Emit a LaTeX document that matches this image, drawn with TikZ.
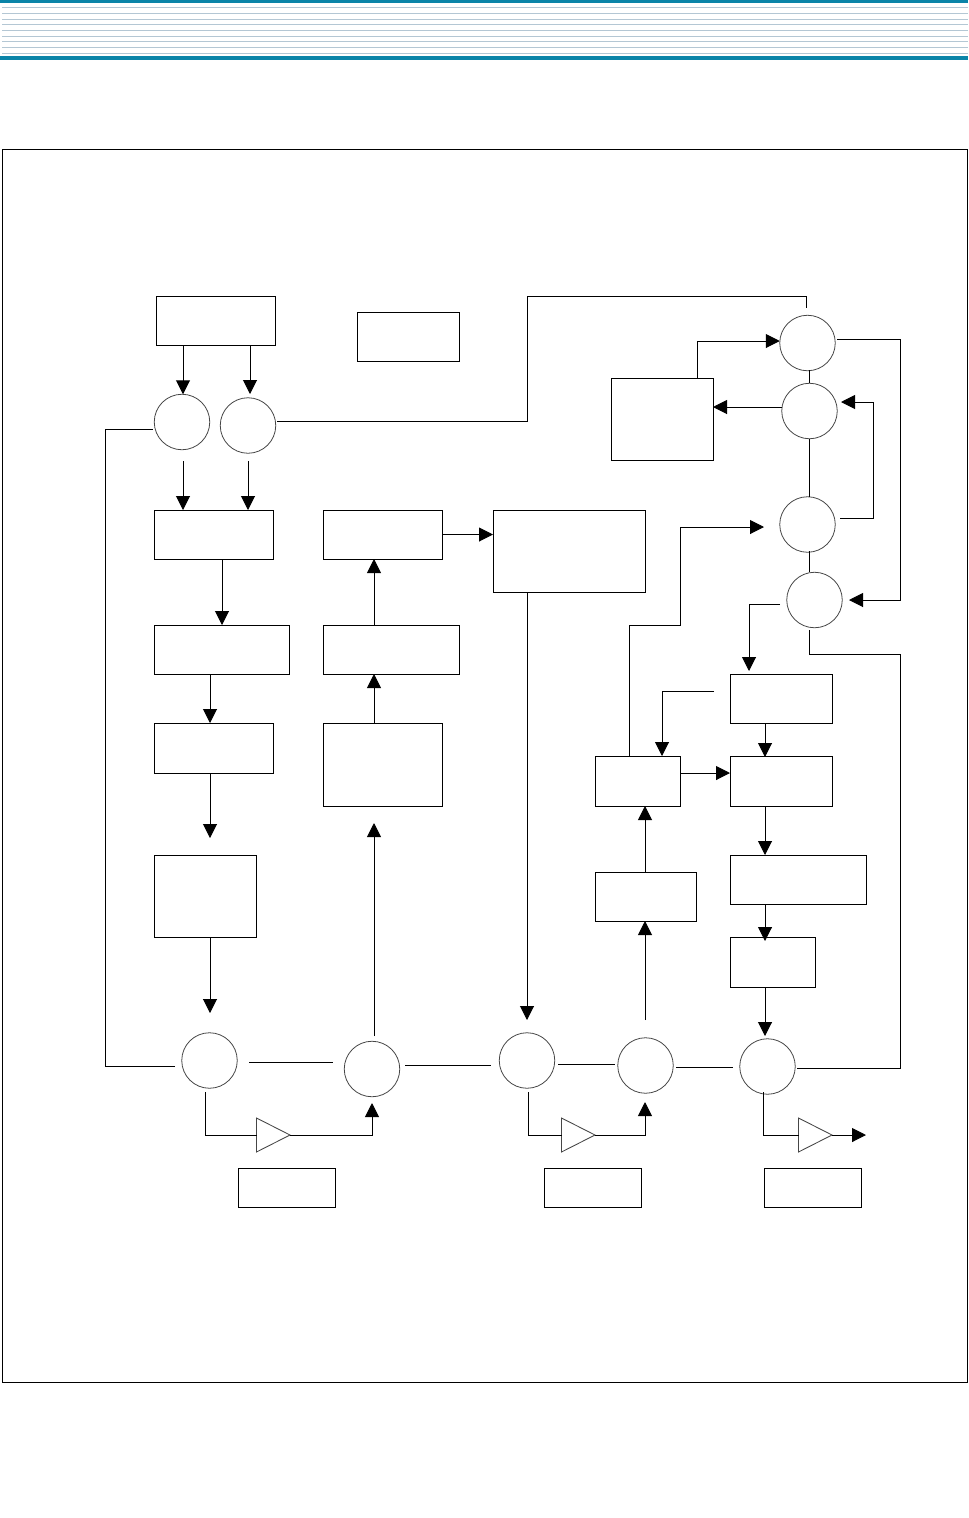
\documentclass[tikz,border=0pt]{standalone}
\usetikzlibrary{arrows.meta,shapes.geometric}
\definecolor{headbar}{RGB}{10,132,168}
\definecolor{headline}{RGB}{180,199,212}
\definecolor{ringgray}{RGB}{70,70,70}
\tikzset{every picture/.style={line width=0.75pt}}
\tikzset{
  blockbox/.style 2 args={draw,inner sep=0pt,outer sep=0pt,minimum width=#1*0.75pt,minimum height=#2*0.75pt},
  ringnode/.style={draw=ringgray,line width=0.6pt,circle,inner sep=0pt,outer sep=0pt,minimum size=#1*0.75pt},
  ringnode/.default=55.5,
  ampnode/.style={draw=ringgray,line width=0.65pt,isosceles triangle,isosceles triangle stretches,shape border rotate=0,inner sep=0pt,outer sep=0pt,minimum width=34*0.75pt,minimum height=33.5*0.75pt,anchor=apex},
  flowline/.style={-{Triangle[length=14*0.75pt,width=14*0.75pt]}},
}

\begin{document}
\begin{tikzpicture}[x=0.75pt,y=0.75pt,yscale=-1,xscale=1]
\useasboundingbox (0,0) rectangle (968,1518);

% page head
\fill [headbar] (0,0) rectangle (968,3);
\fill [headbar] (0,56) rectangle (968,60);
\foreach \y in {7.5,13.5,19.5,24.5,30.5,36.5,41.5,47.5,53.5}
  \draw [headline] (2,\y) -- (968,\y);
% outer frame
\draw (2,149) rectangle (967,1382);

% left column
\node [blockbox={119}{49}] (srcbox) at (215.5,320.5) {};
\node [blockbox={102}{49}] (keybox) at (408,336.5) {};
\node [blockbox={119}{49}] (leftA) at (213.5,534.5) {};
\node [blockbox={135}{49}] (leftB) at (221.5,649.5) {};
\node [blockbox={119}{50}] (leftC) at (213.5,748) {};
\node [blockbox={102}{82}] (leftD) at (205,896) {};
% middle column
\node [blockbox={119}{49}] (midA) at (382.5,534.5) {};
\node [blockbox={136}{49}] (midB) at (391,649.5) {};
\node [blockbox={119}{83}] (midC) at (382.5,764.5) {};
\node [blockbox={152}{82}] (midD) at (569,551) {};
% right column
\node [blockbox={102}{82}] (sideE) at (662,419) {};
\node [blockbox={102}{49}] (rightA) at (781,698.5) {};
\node [blockbox={102}{50}] (rightB) at (781,781) {};
\node [blockbox={136}{49}] (rightC) at (798,879.5) {};
\node [blockbox={85}{50}] (rightD) at (772.5,962) {};
\node [blockbox={85}{50}] (inA) at (637.5,781) {};
\node [blockbox={101}{49}] (inB) at (645.5,896.5) {};
% boxes under the amplifiers
\node [blockbox={97}{39}] (tagA) at (286.5,1187.5) {};
\node [blockbox={97}{39}] (tagB) at (592.5,1187.5) {};
\node [blockbox={97}{39}] (tagC) at (812.5,1187.5) {};

% rings
\node [ringnode] (ringA) at (182,422) {};
\node [ringnode] (ringB) at (248,425.5) {};
\node [ringnode] (ringC) at (209.5,1060.5) {};
\node [ringnode] (ringD) at (372,1069) {};
\node [ringnode] (ringE) at (527,1060.5) {};
\node [ringnode] (ringF) at (645.5,1065.5) {};
\node [ringnode] (ringG) at (767.5,1066.5) {};
\node [ringnode] (ringH) at (807.5,343) {};
\node [ringnode] (ringI) at (809.5,411) {};
\node [ringnode] (ringJ) at (807.5,524.5) {};
\node [ringnode] (ringK) at (814.5,600) {};

% amplifiers
\node [ampnode] (ampA) at (290,1135) {};
\node [ampnode] (ampB) at (595,1135) {};
\node [ampnode] (ampC) at (832,1135) {};

% free ends and corners
\coordinate (ptA) at (250,394);
\coordinate (ptB) at (183,461);
\coordinate (ptC) at (248,461);
\coordinate (ptD) at (222,559);
\coordinate (ptE) at (210,674);
\coordinate (ptF) at (210,838);
\coordinate (ptG) at (210,1013);
\coordinate (ptH) at (374,1036);
\coordinate (ptI) at (374,823);
\coordinate (ptJ) at (527,592);
\coordinate (ptK) at (527,1020);
\coordinate (ptL) at (645,1020);
\coordinate (ptM) at (680,527);
\coordinate (ptN) at (764,527);
\coordinate (ptO) at (629,625);
\coordinate (ptP) at (714,691);
\coordinate (ptQ) at (662,691);
\coordinate (ptR) at (765,941);
\coordinate (ptS) at (697,341);
\coordinate (ptT) at (866,1135);

% left column flow
\draw [flowline] (srcbox.south -| ptB) -- (ptB |- ringA.north);
\draw [flowline] (srcbox.south -| ptA) -- (ptA);
\draw [flowline] (ptB) -- (ptB |- leftA.north);
\draw [flowline] (ptC) -- (ptC |- leftA.north);
\draw [flowline] (ptD) -- (ptD |- leftB.north);
\draw [flowline] (ptE) -- (ptE |- leftC.north);
\draw [flowline] (ptE |- leftC.south) -- (ptF);
\draw [flowline] (ptG |- leftD.south) -- (ptG);

% bottom chain
\draw (249,1062) -- (333,1062);
\draw (405,1065) -- (491,1065);
\draw (558,1064) -- (615,1064);
\draw (676,1067) -- (733,1067);
\draw (175,1066) -- (105,1066) -- (105,429) -- (153,429);
\draw (205,1092) -- (205,1135) -- (ampA.west);
\draw [flowline] (ampA.apex) -- (372,1135) -- (372,1103);
\draw (528,1092) -- (528,1135) -- (ampB.west);
\draw [flowline] (ampB.apex) -- (645,1135) -- (645,1102);
\draw (763,1092) -- (763,1135) -- (ampC.west);
\draw [flowline] (ampC.apex) -- (ptT);

% middle column flow
\draw [flowline] (ptH) -- (ptI);
\draw [flowline] (ptH |- midC.north) -- (ptH |- midB.south);
\draw [flowline] (ptH |- midB.north) -- (ptH |- midA.south);
\draw [flowline] (midA.east) -- (midA.east -| midD.west);
\draw [flowline] (ptJ) -- (ptK);

% right column flow
\draw [flowline] (ptL) -- (ptL |- inB.south);
\draw [flowline] (ptL |- inB.north) -- (ptL |- inA.south);
\draw [flowline] (inA.east |- 0,773) -- (rightB.west |- 0,773);
\draw [flowline] (ptO |- inA.north) -- (ptO) -- (ptM |- ptO) -- (ptM) -- (ptN);
\draw [flowline] (ptP) -- (ptQ) -- (ptQ |- inA.north);
\draw [flowline] (765,723) -- (765,757);
\draw [flowline] (765,806) -- (765,855);
\draw [flowline] (765,904) -- (ptR);
\draw [flowline] (765,987) -- (765,1036);

% top run and the ring stack
\draw (277,421) -- (527,421) -- (527,296) -- (806,296) -- (806,308);
\draw [flowline] (ptS |- sideE.north) -- (ptS) -- (ptS -| ringH.west);
\draw (809,370) -- (809,383);
\draw [flowline] (ringI.west |- 0,407) -- (sideE.east |- 0,407);
\draw (ringI.south) -- (ringI.south |- ringJ.north);
\draw (809,551) -- (809,572);
\draw [flowline] (840,518) -- (873,518) -- (873,402) -- (841,402);
\draw [flowline] (837,339) -- (900,339) -- (900,600) -- (849,600);
\draw [flowline] (780,604) -- (749,604) -- (749,671);
\draw (797,1068) -- (900,1068) -- (900,654) -- (809,654) -- (809,630);

\end{tikzpicture}
\end{document}
